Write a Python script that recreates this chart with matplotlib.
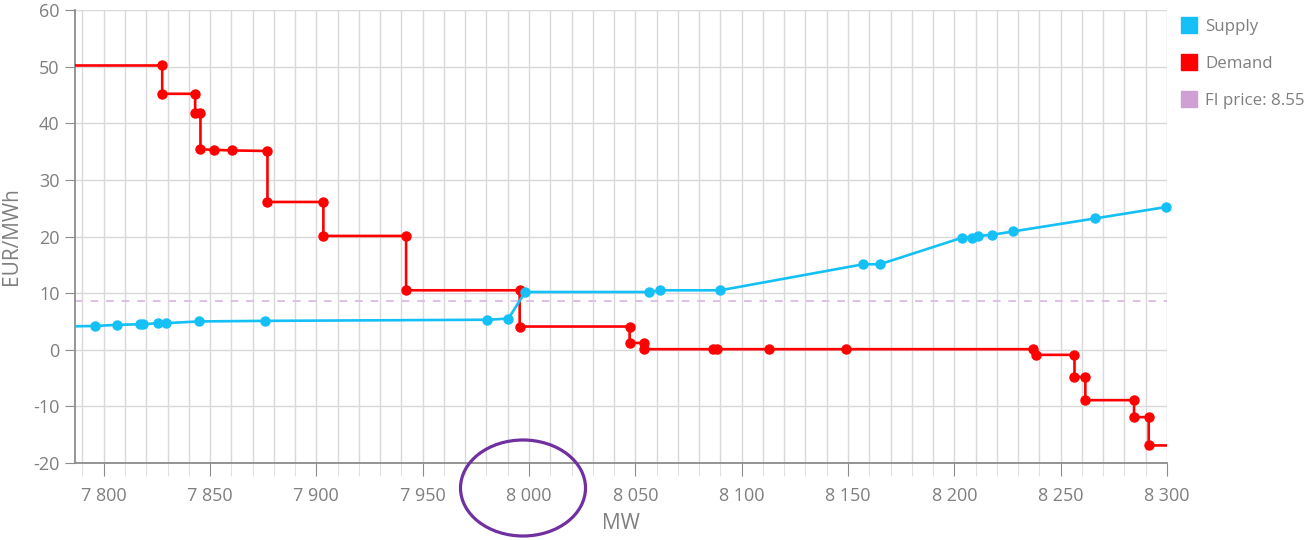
import matplotlib
matplotlib.use("Agg")
import matplotlib.pyplot as plt
from matplotlib.lines import Line2D
from matplotlib.patches import Ellipse
from matplotlib.ticker import MultipleLocator, FuncFormatter

plt.rcParams["font.family"] = ["Open Sans", "DejaVu Sans"]
plt.rcParams["axes.unicode_minus"] = False

# Supply curve (MW, EUR/MWh)
supply_mw = [7780, 7796, 7806.2, 7817.1, 7818.7, 7825.5, 7829.4, 7844.6, 7876,
             7980.4, 7990.3, 7998.2, 8056.2, 8061.6, 8090, 8157.2, 8165,
             8203.7, 8208.2, 8211.3, 8217.8, 8227.7, 8266.3, 8299.5]
supply_eur = [4.1, 4.2, 4.4, 4.5, 4.5, 4.7, 4.7, 5.0, 5.1,
              5.3, 5.5, 10.2, 10.2, 10.5, 10.5, 15.1, 15.1,
              19.8, 19.8, 20.1, 20.3, 20.9, 23.2, 25.2]

# Demand curve (stepped)
demand_mw = [7780, 7827.5, 7827.5, 7843, 7843, 7845.5, 7845.5, 7852, 7860.3, 7877, 7877,
             7903.3, 7903.3, 7942.2, 7942.2, 7995.6, 7995.6, 8047.3, 8047.3, 8054, 8054,
             8086.3, 8088.2, 8112.7, 8149, 8237.2, 8238.2, 8256.5, 8256.5, 8261.6, 8261.6,
             8284.5, 8284.5, 8291.4, 8291.4, 8310]
demand_eur = [50.2, 50.2, 45.2, 45.2, 41.8, 41.8, 35.4, 35.3, 35.2, 35.1, 26.1,
              26.1, 20.1, 20.1, 10.5, 10.5, 4.1, 4.1, 1.2, 1.2, 0.1,
              0.1, 0.1, 0.1, 0.1, 0.1, -0.9, -0.9, -4.8, -4.8, -8.9,
              -8.9, -11.9, -11.9, -16.9, -16.9]

fi_price = 8.55

SUPPLY_C = "#14c0f5"
DEMAND_C = "#ff0000"
FI_C = "#ceA0d4"
TXT_C = "#7f7f7f"
GRID_C = "#d9d9d9"

fig = plt.figure(figsize=(13.06, 5.40), dpi=100)
ax = fig.add_axes([75 / 1306, 77 / 540, (1167 - 75) / 1306, (463 - 10) / 540])

ax.axhline(fi_price, color="#dcc2e4", lw=1.4, dashes=(4, 4), zorder=2)

ax.plot(demand_mw, demand_eur, color=DEMAND_C, lw=1.9, zorder=3)
ax.plot(demand_mw[1:-1], demand_eur[1:-1], "o", color=DEMAND_C, ms=6.5, zorder=3)
ax.plot(supply_mw, supply_eur, color=SUPPLY_C, lw=1.9, zorder=4)
ax.plot(supply_mw[1:], supply_eur[1:], "o", color=SUPPLY_C, ms=6.5, zorder=4, clip_on=False)

ax.set_xlim(7786.5, 8300)
ax.set_ylim(-20, 60)
ax.xaxis.set_major_locator(MultipleLocator(50))
ax.xaxis.set_minor_locator(MultipleLocator(10))
ax.yaxis.set_major_locator(MultipleLocator(10))
ax.xaxis.set_major_formatter(FuncFormatter(lambda v, p: f"{int(v):,}".replace(",", " ")))

ax.grid(True, which="both", axis="x", color=GRID_C, lw=1)
ax.grid(True, which="major", axis="y", color=GRID_C, lw=1)
ax.set_axisbelow(True)

for s in ["top", "right"]:
    ax.spines[s].set_visible(False)
for s in ["left", "bottom"]:
    ax.spines[s].set_color("#8c8c8c")
    ax.spines[s].set_linewidth(1.3)

ax.tick_params(axis="x", which="major", length=9, color="#8c8c8c", labelsize=13, labelcolor=TXT_C, pad=8)
ax.tick_params(axis="x", which="minor", length=9, color=GRID_C)
ax.tick_params(axis="y", length=7, color="#8c8c8c", labelsize=13, labelcolor=TXT_C, pad=4)

ax.set_xlabel("MW", fontsize=15, color=TXT_C, labelpad=6)
ax.set_ylabel("EUR/MWh", fontsize=15, color=TXT_C, labelpad=8)

handles = [
    Line2D([], [], marker="s", ls="none", color=SUPPLY_C, ms=12, label="Supply"),
    Line2D([], [], marker="s", ls="none", color=DEMAND_C, ms=12, label="Demand"),
    Line2D([], [], marker="s", ls="none", color=FI_C, ms=12, label=f"FI price: {fi_price}"),
]
fig.legend(handles=handles, loc="upper left", bbox_to_anchor=(1174 / 1306, 1 - 12 / 540),
           frameon=False, fontsize=12.2, labelcolor=TXT_C, handlelength=1.0,
           handletextpad=0.45, labelspacing=1.25, borderaxespad=0)

# highlighted tick label
fig.add_artist(Ellipse((5.23, 0.52), 1.25, 0.96, transform=fig.dpi_scale_trans,
                       fill=False, edgecolor="#7030a0", lw=2.3))

fig.savefig("out.png", dpi=100)
